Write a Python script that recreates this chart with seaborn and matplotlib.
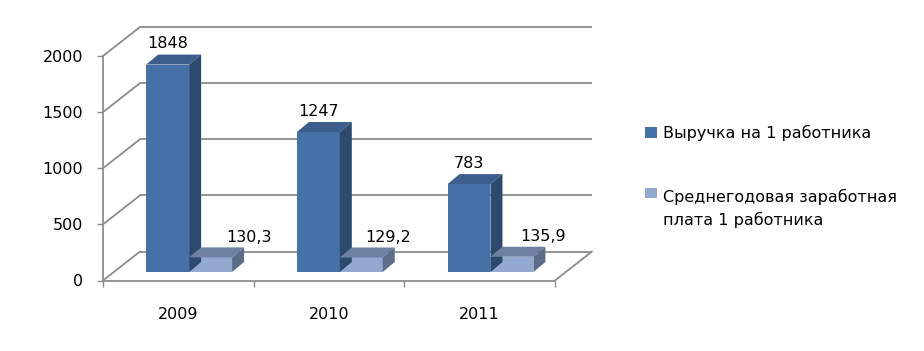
import numpy as np
import pandas as pd
import matplotlib
matplotlib.use("Agg")
import matplotlib.pyplot as plt
import seaborn as sns
from matplotlib.transforms import ScaledTranslation, IdentityTransform
from matplotlib.patches import Polygon, Patch
from matplotlib.lines import Line2D

# ---------------- data ----------------
years = ["2009", "2010", "2011"]
revenue = [1848, 1247, 783]
salary = [130.3, 129.2, 135.9]
revenue_labels = ["1848", "1247", "783"]
salary_labels = ["130,3", "129,2", "135,9"]
series_names = ["Выручка на 1 работника",
                "Среднегодовая заработная\nплата 1 работника"]
y_ticks = [0, 500, 1000, 1500, 2000]

# ---------------- style ----------------
sns.set_theme(style="white")
plt.rcParams["font.family"] = ["DejaVu Sans"]
plt.rcParams["text.color"] = "black"
FS = 11.5
GRID = "#8C8C8C"
colors_front = ["#4670A8", "#93A9D0"]
colors_top = ["#3B5E8C", "#6E81A2"]
colors_side = ["#2D4A6E", "#5C6C89"]

DPI = 100
W, H = 924, 351
fig = plt.figure(figsize=(W / DPI, H / DPI), dpi=DPI)
fig.patch.set_facecolor("white")

x0_px, x1_px, y0_px, y1_px = 103, 555, 280.5, 56
ax = fig.add_axes([x0_px / W, 1 - y0_px / H, (x1_px - x0_px) / W, (y0_px - y1_px) / H])
ax.set_facecolor("none")

df = pd.DataFrame({
    "year": years * 2,
    "value": revenue + salary,
    "series": [series_names[0]] * len(years) + [series_names[1]] * len(years),
})

sns.barplot(data=df, x="year", y="value", hue="series", hue_order=series_names,
            order=years, palette=colors_front, width=0.57, saturation=1,
            linewidth=0, errorbar=None, legend=False, ax=ax)

ax.set_xlim(-0.5, len(years) - 0.5)
ax.set_ylim(0, 2000)
ax.set_xlabel("")
ax.set_ylabel("")


def off(dx, dy):
    return ax.transData + ScaledTranslation(dx / DPI, dy / DPI, fig.dpi_scale_trans)


WALL = (37, 29)     # depth of the 3D box (px)
SHIFT = (10.8, 8.5)  # position of bars inside the box (px)
BDEP = (12, 10)     # depth of bars (px)

# back wall grid + left wall diagonals
xl, xr = ax.get_xlim()
for t in y_ticks:
    ax.plot([xl, xr], [t, t], transform=off(*WALL), color=GRID, lw=1.3,
            clip_on=False, zorder=1, solid_capstyle="butt")
    p = ax.transData.transform((xl, t))
    fig.add_artist(Line2D([p[0], p[0] + WALL[0]], [p[1], p[1] + WALL[1]],
                          transform=IdentityTransform(), color=GRID, lw=1.3, zorder=1))
p = ax.transData.transform((xr, 0))
fig.add_artist(Line2D([p[0], p[0] + WALL[0]], [p[1], p[1] + WALL[1]],
                      transform=IdentityTransform(), color=GRID, lw=1.3, zorder=1))

# 3D bars
label_sets = [revenue_labels, salary_labels]
label_dx = [[0, 0, 0], [38, 27, 31]]
label_dy = [21, 20]
for k, cont in enumerate(ax.containers):
    T = off(*SHIFT)
    for i, rect in enumerate(cont):
        rect.set_transform(T)
        rect.set_zorder(3 + k)
        x, y, w, h = rect.get_x(), rect.get_y(), rect.get_width(), rect.get_height()
        bl = T.transform((x + w, y))
        tl = T.transform((x, y + h))
        tr = T.transform((x + w, y + h))
        bd = np.array(BDEP)
        top = Polygon([tl, tr, tr + bd, tl + bd], closed=True, transform=IdentityTransform(),
                      facecolor=colors_top[k], edgecolor="none", zorder=3 + k)
        side = Polygon([bl, tr, tr + bd, bl + bd], closed=True, transform=IdentityTransform(),
                       facecolor=colors_side[k], edgecolor="none", zorder=3 + k)
        fig.add_artist(top)
        fig.add_artist(side)
        ax.text(x + w / 2, y + h, label_sets[k][i],
                transform=off(SHIFT[0] + label_dx[k][i], SHIFT[1] + label_dy[k]),
                ha="center", va="center", fontsize=FS, color="black", zorder=6)

# axes styling
for s in ["top", "right"]:
    ax.spines[s].set_visible(False)
for s in ["left", "bottom"]:
    ax.spines[s].set_color(GRID)
    ax.spines[s].set_linewidth(1.3)
ax.set_yticks(y_ticks)
ax.set_yticklabels([str(t) for t in y_ticks])
ax.tick_params(axis="y", left=True, length=4.3, width=1, color=GRID, pad=10,
               labelsize=FS, labelcolor="black")
ax.set_xticks(range(len(years)))
ax.set_xticklabels(years)
ax.set_xticks([i - 0.5 for i in range(len(years) + 1)], minor=True)
ax.tick_params(axis="x", which="major", length=0, pad=19, labelsize=FS, labelcolor="black")
ax.tick_params(axis="x", which="minor", bottom=True, length=4.3, width=1, color=GRID)
ax.grid(False)

# legend
handles = [Patch(facecolor=c, edgecolor="none") for c in colors_front]
leg = fig.legend(handles, series_names, loc="upper left",
                 bbox_to_anchor=(645 / W, 1 - 125 / H), frameon=False, fontsize=FS,
                 handlelength=0.75, handleheight=0.62, handletextpad=0.4,
                 labelspacing=3.0, borderpad=0, borderaxespad=0)
for t in leg.get_texts():
    t.set_linespacing(1.53)
    t.set_color("black")
# align the marker of the two-line entry with its first line
r = leg.legend_handles[1]
r.set_y(r.get_y() + 11.5)

fig.savefig("out.png", dpi=DPI, facecolor="white")
